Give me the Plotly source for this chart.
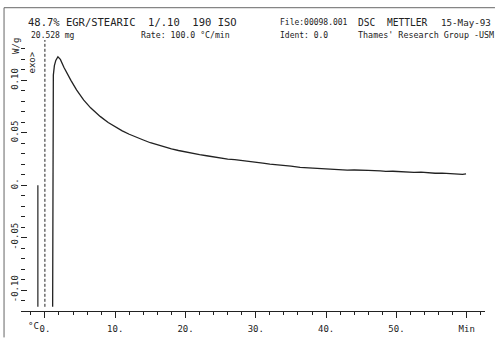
import plotly.graph_objects as go

# ---- data ----
time_min = [1.1, 1.1, 1.15, 1.2, 1.35, 1.55, 1.85, 2.2, 2.7, 3.2, 3.7, 4.5, 5.5, 6.5, 7.9,
            9.0, 10.0, 11.0, 12.0, 13.0, 14.0, 15.0, 16.0, 17.0, 18.0, 19.0, 20.0, 21.0,
            22.0, 23.0, 24.0, 25.0, 26.0, 27.0, 28.0, 29.0, 30.0, 31.0, 32.0, 33.0, 34.0,
            35.0, 36.3, 37.0, 38.0, 39.0, 40.0, 41.0, 42.0, 43.0, 44.0, 45.0, 46.0, 47.7,
            48.5, 49.5, 50.5, 51.5, 52.5, 53.5, 54.5, 55.5, 56.5, 57.5, 58.5, 59.4, 59.9]
heat_flow = [-0.116, -0.098, 0.07, 0.105, 0.114, 0.119, 0.1225, 0.120, 0.1125, 0.106, 0.100,
             0.091, 0.0813, 0.0738, 0.0654, 0.0598, 0.0555, 0.0518, 0.0486, 0.0455, 0.0431,
             0.0405, 0.0384, 0.0363, 0.0347, 0.0331, 0.0316, 0.0304, 0.0291, 0.0281, 0.0269,
             0.0261, 0.0249, 0.0243, 0.0233, 0.0226, 0.0217, 0.0210, 0.0201, 0.0196, 0.0188,
             0.0182, 0.0170, 0.0167, 0.0164, 0.0157, 0.0155, 0.0150, 0.0149, 0.0144, 0.0145,
             0.0140, 0.0141, 0.0136, 0.0131, 0.0133, 0.0127, 0.0128, 0.0122, 0.0124, 0.0118,
             0.0114, 0.0116, 0.0111, 0.0109, 0.0103, 0.0108]
spike_t = [-1.0, -1.0]
spike_v = [0.0, -0.116]
zero_t = [0.0, 0.0]
zero_v = [-0.116, 0.1385]

x_ticks = [0, 10, 20, 30, 40, 50, 60]
x_ticktext = ["0.", "10.", "20.", "30.", "40.", "50.", "Min"]
y_ticks = [-0.10, -0.05, 0.0, 0.05, 0.10]
y_ticktext = ["-0.10", "-0.05", "0.", "0.05", "0.10"]

W, H = 495, 344
ML, MR, MT, MB = 20, 10, 40, 27
PW, PH = W - ML - MR, H - MT - MB


def px(x):
    return (x - ML) / PW


def py(y):
    return (H - MB - y) / PH


INK = "#222222"
FONT = "DejaVu Sans Mono"

fig = go.Figure()
fig.add_trace(go.Scatter(x=time_min, y=heat_flow, mode="lines",
                         line=dict(color=INK, width=1.3), showlegend=False))
fig.add_trace(go.Scatter(x=spike_t, y=spike_v, mode="lines",
                         line=dict(color=INK, width=1.2), showlegend=False))
fig.add_trace(go.Scatter(x=zero_t, y=zero_v, mode="lines",
                         line=dict(color=INK, width=1, dash="3px,2px"), showlegend=False))

fig.update_xaxes(range=[-3.4, 62.6], tickmode="array", tickvals=x_ticks, ticktext=x_ticktext,
                 ticks="outside", ticklen=6, tickcolor=INK, showline=True, linecolor=INK,
                 linewidth=1, showgrid=False, zeroline=False, ticklabelstandoff=3,
                 minor=dict(dtick=2, tick0=0, ticks="outside", ticklen=3, tickcolor=INK),
                 tickfont=dict(family=FONT, size=9, color=INK))
fig.update_yaxes(range=[-0.12, 0.1385], tickmode="array", tickvals=y_ticks,
                 ticktext=y_ticktext, ticks="inside", ticklen=6, tickcolor=INK,
                 showline=False, showgrid=False, zeroline=False, tickangle=-90,
                 minor=dict(dtick=0.01, tick0=0, ticks="inside", ticklen=4, tickcolor=INK),
                 tickfont=dict(family=FONT, size=9, color=INK))

ann = [
    ("48.7% EGR/STEARIC  1/.10  190 ISO", 25, 22, 10.5),
    ("20.528 mg", 28, 35, 8),
    ("Rate: 100.0 \u00b0C/min", 138, 35, 8.2),
    ("File:00098.001", 278, 22, 8),
    ("DSC  METTLER", 356, 22, 9.6),
    ("15-May-93", 439, 22, 9.2),
    ("Ident: 0.0", 278, 35, 8),
    ("Thames' Research Group -USM", 356, 35, 8.4),
    ("\u00b0C", 25, 332, 9),
]
for text, x, y, size in ann:
    fig.add_annotation(text=text, x=px(x), y=py(y), xref="paper", yref="paper",
                       xanchor="left", yanchor="middle", showarrow=False,
                       font=dict(family=FONT, size=size, color=INK))
fig.add_annotation(text="W/g", x=px(15), y=py(46), xref="paper", yref="paper",
                   xanchor="center", yanchor="middle", showarrow=False, textangle=-90,
                   font=dict(family=FONT, size=9, color=INK))
fig.add_annotation(text="exo>", x=px(31), y=py(63), xref="paper", yref="paper",
                   xanchor="center", yanchor="middle", showarrow=False, textangle=-90,
                   font=dict(family=FONT, size=9, color=INK))

# page frame (left and top edges)
for x0, y0, x1, y1 in [(3, 7, 3, 344), (3, 7, 495, 7)]:
    fig.add_shape(type="line", xref="paper", yref="paper", x0=px(x0), y0=py(y0),
                  x1=px(x1), y1=py(y1), line=dict(color="#666", width=1))

fig.update_layout(width=W, height=H, margin=dict(l=ML, r=MR, t=MT, b=MB),
                  paper_bgcolor="white", plot_bgcolor="white")
fig.write_html("out.html")
